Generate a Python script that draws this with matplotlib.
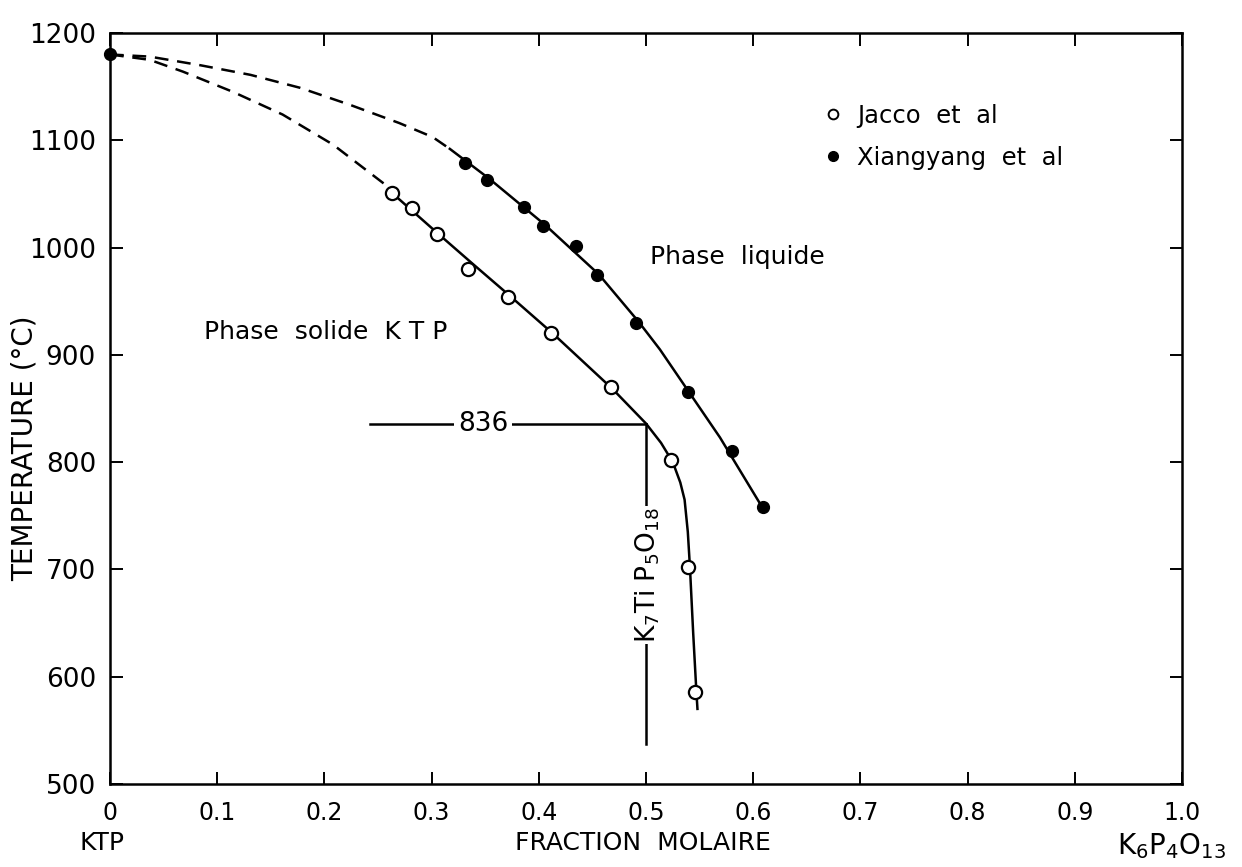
import matplotlib
matplotlib.use("Agg")
import matplotlib.pyplot as plt
from matplotlib.lines import Line2D

jacco_x = [0.263, 0.282, 0.305, 0.334, 0.371, 0.411, 0.467, 0.523, 0.539, 0.546]
jacco_y = [1051, 1037, 1013, 980, 954, 920, 870, 802, 702, 586]

xiang_x = [0.0, 0.331, 0.352, 0.386, 0.404, 0.435, 0.454, 0.491, 0.539, 0.580, 0.609]
xiang_y = [1180, 1079, 1063, 1038, 1020, 1001, 974, 930, 865, 810, 758]

# hand-drawn curves
solidus_x = [0.263, 0.306, 0.337, 0.373, 0.413, 0.469, 0.500, 0.514, 0.525, 0.532, 0.536, 0.539, 0.541, 0.544, 0.547, 0.548]
solidus_y = [1051, 1013, 986, 955, 920, 868, 836, 818, 800, 781, 765, 735, 702, 641, 586, 570]
solidus_dash_x = [0.0, 0.037, 0.068, 0.115, 0.161, 0.208, 0.255, 0.263]
solidus_dash_y = [1180, 1175, 1164, 1145, 1124, 1096, 1060, 1054]

liquidus_x = [0.317, 0.354, 0.406, 0.456, 0.493, 0.513, 0.541, 0.569, 0.609]
liquidus_y = [1092, 1064, 1021, 975, 931, 905, 864, 823, 757]
liquidus_dash_x = [0.0, 0.037, 0.084, 0.131, 0.177, 0.224, 0.270, 0.301, 0.317]
liquidus_dash_y = [1180, 1178, 1170, 1161, 1149, 1133, 1116, 1103, 1092]

eutectic_t = 836
compound_x = 0.5

xticks = [0, 0.1, 0.2, 0.3, 0.4, 0.5, 0.6, 0.7, 0.8, 0.9, 1.0]
xticklabels = ["0", "0.1", "0.2", "0.3", "0.4", "0.5", "0.6", "0.7", "0.8", "0.9", "1.0"]
yticks = [500, 600, 700, 800, 900, 1000, 1100, 1200]

fig = plt.figure(figsize=(12.42, 8.67), dpi=100)
ax = fig.add_axes([110 / 1242, 1 - 784 / 867, 1072 / 1242, 751 / 867])

lw = 1.8
ax.plot(solidus_x, solidus_y, color="black", lw=lw)
ax.plot(solidus_dash_x, solidus_dash_y, color="black", lw=lw, ls=(0, (5.5, 3.5)))
ax.plot(liquidus_x, liquidus_y, color="black", lw=lw)
ax.plot(liquidus_dash_x, liquidus_dash_y, color="black", lw=lw, ls=(0, (5.5, 3.5)))

ax.plot(jacco_x, jacco_y, "o", ms=9.5, mfc="white", mec="black", mew=1.6, zorder=5)
ax.plot(xiang_x, xiang_y, "o", ms=8.5, mfc="black", mec="black", zorder=5, clip_on=False)

# 836 line and K7TiP5O18 line
ax.plot([0.243, compound_x], [eutectic_t, eutectic_t], color="black", lw=lw)
ax.plot([compound_x, compound_x], [eutectic_t, 537], color="black", lw=lw)
ax.text(0.348, eutectic_t, "836", fontsize=19, ha="center", va="center",
        bbox=dict(facecolor="white", edgecolor="none", pad=3))
ax.text(compound_x + 0.002, 695, r"K$_7$Ti P$_5$O$_{18}$", fontsize=19, rotation=90,
        ha="center", va="center", bbox=dict(facecolor="white", edgecolor="none", pad=1))

ax.text(0.088, 921, "Phase  solide  K T P", fontsize=18, ha="left", va="center")
ax.text(0.504, 991, "Phase  liquide", fontsize=18, ha="left", va="center")

handles = [
    Line2D([], [], ls="none", marker="o", ms=7, mfc="white", mec="black", mew=1.4),
    Line2D([], [], ls="none", marker="o", ms=7, mfc="black", mec="black"),
]
ax.legend(handles, ["Jacco  et  al", "Xiangyang  et  al"], loc="upper left",
          bbox_to_anchor=(0.645, 0.935), frameon=False, fontsize=17.5,
          handlelength=0.8, handletextpad=0.6, labelspacing=0.75)

ax.set_xlim(0, 1.0)
ax.set_ylim(500, 1200)
ax.set_xticks(xticks)
ax.set_xticklabels(xticklabels, fontsize=17)
ax.set_yticks(yticks)
ax.set_yticklabels([str(t) for t in yticks], fontsize=19)
ax.tick_params(direction="in", length=9, width=1.4, top=True, right=True)
ax.tick_params(axis="x", pad=12)
ax.tick_params(axis="y", pad=10)
for s in ax.spines.values():
    s.set_linewidth(1.8)

fig.text(25 / 1242, 1 - 448 / 867, "TEMPERATURE (°C)", rotation=90, ha="center",
         va="center", fontsize=20)
fig.text(80 / 1242, 1 - 843 / 867, "KTP", ha="left", va="center", fontsize=18)
fig.text(643 / 1242, 1 - 843 / 867, "FRACTION  MOLAIRE", ha="center", va="center",
         fontsize=18)
fig.text(1172 / 1242, 1 - 846 / 867, r"K$_6$P$_4$O$_{13}$", ha="center", va="center",
         fontsize=20)

fig.savefig("out.png", dpi=100, facecolor="white")
